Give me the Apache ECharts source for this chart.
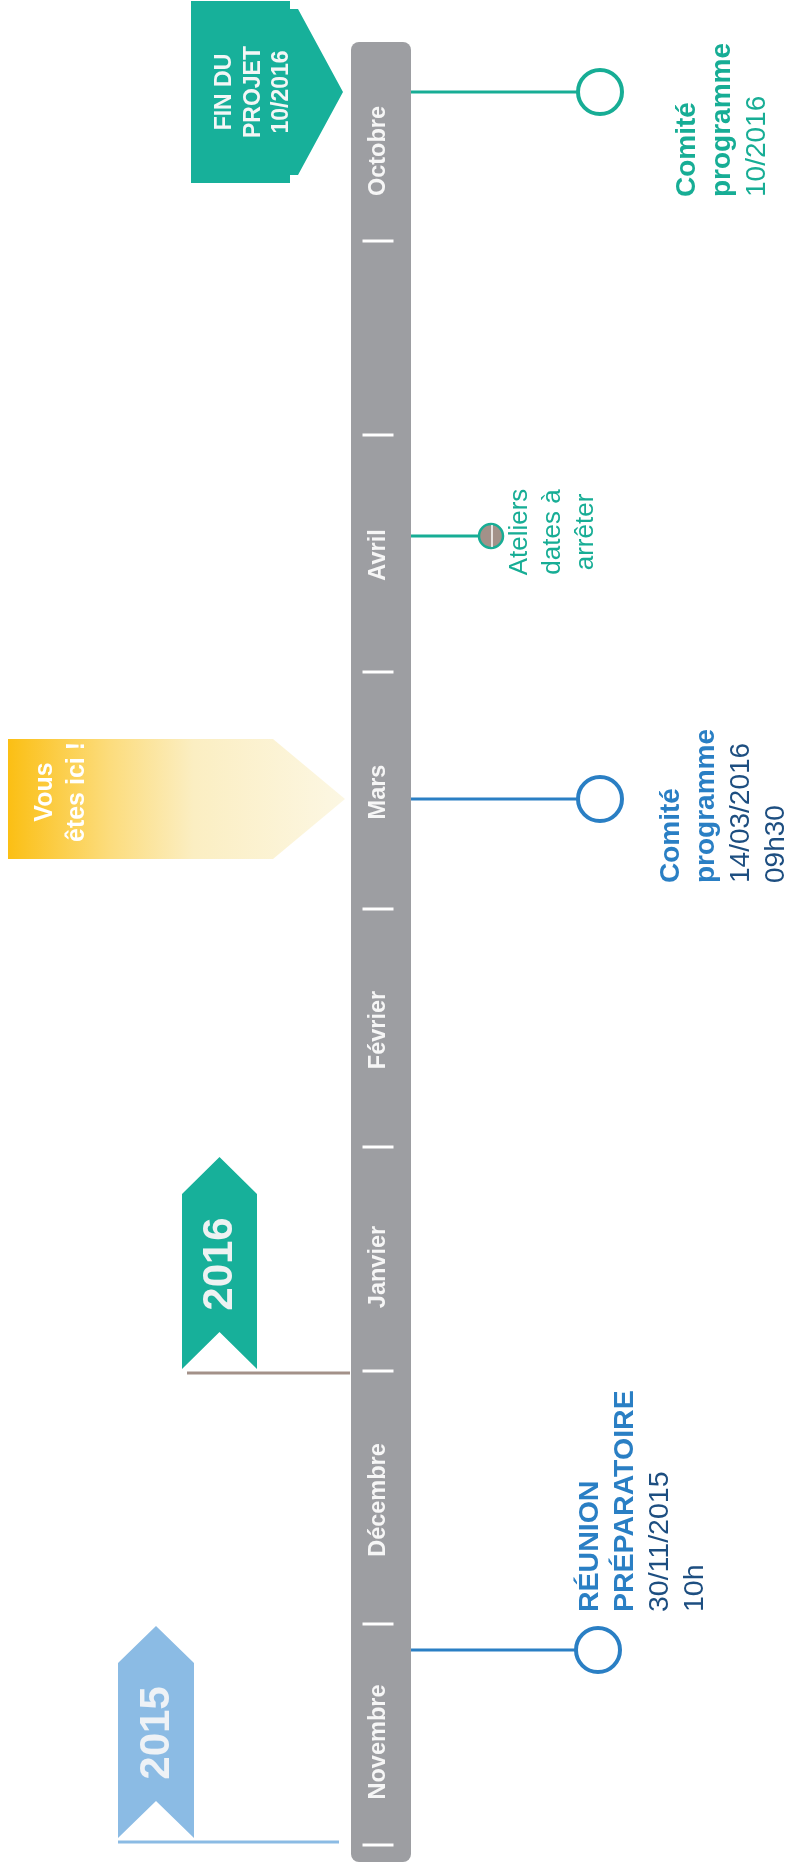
<!DOCTYPE html>
<html>
<head>
<meta charset="utf-8">
<script src="https://cdn.jsdelivr.net/npm/echarts/dist/echarts.min.js"></script>
<style>
  html, body { margin: 0; padding: 0; background: #fff; }
  #main { width: 792px; height: 1865px; }
</style>
</head>
<body>
<div id="main"></div>
<script>
// timeline values, read along the vertical axis of the picture (0 = top)
var months = ['Novembre', 'Décembre', 'Janvier', 'Février', 'Mars', 'Avril', 'Octobre'];
var monthValues = [1742, 1500, 1267, 1030, 792, 555, 151];
var tickValues = [1845, 1624, 1371, 1147, 909, 672, 435, 241];
var timelineSpan = [42, 1862];

var eventValues = [92, 536, 799, 1650];
var eventTitles = [['Comité', 'programme'], [], ['Comité', 'programme'], ['RÉUNION', 'PRÉPARATOIRE']];
var eventDetails = [['10/2016'], ['Ateliers', 'dates à', 'arrêter'], ['14/03/2016', '09h30'], ['30/11/2015', '10h']];

var years = ['2015', '2016'];
var yearValues = [1845, 1371];

var endLabel = ['FIN DU', 'PROJET', '10/2016'];
var endValue = 92;
var hereLabel = ['Vous', 'êtes ici !'];
var hereValue = 799;

// styles / layout
var TEAL = '#17ad95', BLUE = '#2a7fc4', NAVY = '#1d4e80', GREY = '#9d9ea2',
    TAUPE = '#a39189', SKY = '#8bbbe4';
var FONT = '"Liberation Sans", Arial, Helvetica, sans-serif';
var BAR = [351, 411];
var eventStyle = [
  { color: TEAL, detail: TEAL, cx: 600, r: 22, small: false, textX: 687, gap: 35, dy: 105, align: 'left', size: 28 },
  { color: TEAL, detail: TEAL, cx: 491, r: 12, small: true, textX: 520, gap: 33, dy: -4, align: 'center', size: 26 },
  { color: BLUE, detail: NAVY, cx: 600, r: 22, small: false, textX: 671, gap: 35, dy: 84, align: 'left', size: 28 },
  { color: BLUE, detail: NAVY, cx: 598, r: 22, small: false, textX: 590, gap: 35, dy: -38, align: 'left', size: 28.5 }
];
var yearStyle = [
  { fill: SKY, line: SKY, x0: 118, x1: 194, bottom: -7, lineDy: -3, lineX0: 118, lineX1: 339, text: '#eef2f6' },
  { fill: '#17b09a', line: TAUPE, x0: 182, x1: 257, bottom: -2, lineDy: 2, lineX0: 187, lineX1: 350, text: '#eef2f2' }
];

function rotText(p, txt, opt) {
  return {
    type: 'text', x: p[0], y: p[1], rotation: Math.PI / 2,
    style: {
      text: txt, fill: opt.fill, fontSize: opt.size, fontWeight: opt.bold ? 'bold' : 'normal',
      fontFamily: FONT, align: opt.align || 'center', verticalAlign: 'middle'
    }
  };
}

var myChart = echarts.init(document.getElementById('main'));

var option = {
  animation: false,
  grid: { left: 0, right: 0, top: 0, bottom: 0 },
  xAxis: { type: 'value', min: 0, max: 792, show: false },
  yAxis: { type: 'value', min: 0, max: 1865, inverse: true, show: false },
  series: [
    {
      // the grey timeline bar
      type: 'custom', z: 1, silent: true,
      data: [[BAR[0], timelineSpan[0], timelineSpan[1]]],
      renderItem: function (params, api) {
        var a = api.coord([BAR[0], api.value(1)]);
        var b = api.coord([BAR[1], api.value(2)]);
        return {
          type: 'rect',
          shape: { x: a[0], y: a[1], width: b[0] - a[0], height: b[1] - a[1], r: 8 },
          style: { fill: GREY }
        };
      }
    },
    {
      // month separators
      type: 'scatter', z: 2, silent: true,
      symbol: 'rect', symbolSize: [31, 3],
      itemStyle: { color: '#fff', opacity: 1 },
      data: tickValues.map(function (v) { return [378, v]; })
    },
    {
      // month names
      type: 'custom', z: 3, silent: true,
      data: monthValues.map(function (v) { return [379, v]; }),
      renderItem: function (params, api) {
        var p = api.coord([api.value(0), api.value(1)]);
        return rotText(p, months[params.dataIndex], { fill: '#f6f6f6', size: 23.5, bold: true });
      }
    },
    {
      // year ribbons
      type: 'custom', z: 3, silent: true,
      data: yearValues.map(function (v) { return [0, v]; }),
      renderItem: function (params, api) {
        var st = yearStyle[params.dataIndex];
        var v = api.value(1);
        var bot = v + st.bottom, top = bot - 212;
        var mid = (st.x0 + st.x1) / 2;
        var pts = [
          [mid, top], [st.x1, top + 37], [st.x1, bot], [mid, bot - 37], [st.x0, bot], [st.x0, top + 37]
        ].map(function (q) { return api.coord(q); });
        var l0 = api.coord([st.lineX0, v + st.lineDy]);
        var l1 = api.coord([st.lineX1, v + st.lineDy]);
        return {
          type: 'group',
          children: [
            { type: 'polygon', shape: { points: pts }, style: { fill: st.fill } },
            { type: 'line', shape: { x1: l0[0], y1: l0[1], x2: l1[0], y2: l1[1] }, style: { stroke: st.line, lineWidth: 3 } },
            rotText(api.coord([mid + 1, bot - 105]), years[params.dataIndex], { fill: st.text, size: 42, bold: true })
          ]
        };
      }
    },
    {
      // "FIN DU PROJET" arrow
      type: 'custom', z: 3, silent: true,
      data: [[0, endValue]],
      renderItem: function (params, api) {
        var v = api.value(1);
        var pts = [[191, -91], [290, -91], [290, -83], [298, -83], [343, 0], [298, 83], [290, 83], [290, 91], [191, 91]]
          .map(function (q) { return api.coord([q[0], v + q[1]]); });
        var kids = [{ type: 'polygon', shape: { points: pts }, style: { fill: '#17b09a' } }];
        endLabel.forEach(function (t, k) {
          kids.push(rotText(api.coord([225 + k * 28.5, v]), t, { fill: '#f4f6f6', size: 23, bold: true }));
        });
        return { type: 'group', children: kids };
      }
    },
    {
      // "Vous êtes ici !" arrow
      type: 'custom', z: 3, silent: true,
      data: [[0, hereValue]],
      renderItem: function (params, api) {
        var v = api.value(1);
        var pts = [[8, -60], [273, -60], [345, 0], [273, 60], [8, 60]]
          .map(function (q) { return api.coord([q[0], v + q[1]]); });
        var kids = [{
          type: 'polygon', shape: { points: pts },
          style: {
            fill: {
              type: 'linear', x: 0, y: 0, x2: 1, y2: 0,
              colorStops: [
                { offset: 0, color: '#fbbf14' },
                { offset: 0.3, color: '#fcdc7c' },
                { offset: 0.55, color: '#fbeec2' },
                { offset: 1, color: '#fcf7e3' }
              ]
            }
          }
        }];
        hereLabel.forEach(function (t, k) {
          kids.push(rotText(api.coord([45 + k * 32, v - 7]), t, { fill: '#ffffff', size: 25, bold: true }));
        });
        return { type: 'group', children: kids };
      }
    },
    {
      // events: connector, circle, text
      type: 'custom', z: 4, silent: true,
      data: eventValues.map(function (v) { return [0, v]; }),
      renderItem: function (params, api) {
        var i = params.dataIndex;
        var st = eventStyle[i];
        var v = api.value(1);
        var from = api.coord([BAR[1], v]);
        var c = api.coord([st.cx, v]);
        var kids = [{
          type: 'line', shape: { x1: from[0], y1: from[1], x2: c[0] - st.r, y2: c[1] },
          style: { stroke: st.color, lineWidth: 3 }
        }];
        if (st.small) {
          kids.push({ type: 'circle', shape: { cx: c[0], cy: c[1], r: st.r }, style: { fill: TAUPE, stroke: st.color, lineWidth: 2.5 } });
          kids.push({ type: 'line', shape: { x1: c[0] + 1, y1: c[1] - st.r + 1, x2: c[0] + 1, y2: c[1] + st.r - 1 }, style: { stroke: '#fff', lineWidth: 1.5 } });
        } else {
          kids.push({ type: 'circle', shape: { cx: c[0], cy: c[1], r: st.r }, style: { fill: '#fff', stroke: st.color, lineWidth: 4 } });
        }
        var lines = eventTitles[i].map(function (t) { return { t: t, bold: true }; })
          .concat(eventDetails[i].map(function (t) { return { t: t, bold: false }; }));
        lines.forEach(function (ln, k) {
          var p = api.coord([st.textX + k * st.gap, v + st.dy]);
          kids.push(rotText(p, ln.t, {
            fill: ln.bold ? st.color : st.detail, size: st.size, bold: ln.bold, align: st.align
          }));
        });
        return { type: 'group', children: kids };
      }
    }
  ]
};

myChart.setOption(option);
</script>
</body>
</html>
